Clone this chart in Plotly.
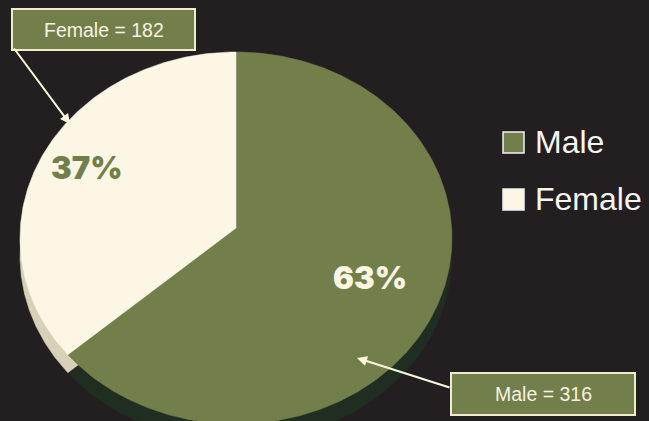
import numpy as np
import plotly.graph_objects as go

# --- data ---
categories = ["Male", "Female"]
counts = [316, 182]
surface_colors = ["#737F4A", "#FBF7E4"]
rim_colors = ["#1F2E20", "#D6D1B8"]
percent_text_colors = ["#FBF7E4", "#737F4A"]
percent_label_xy = [(370, 277), (87, 167)]
callout_boxes = [(451, 373, 635, 415), (12, 9, 195, 50)]
callout_arrows = [((451, 388), (357, 358)), ((13, 47), (70, 124))]
legend_y = [143, 200]

# --- geometry of the tilted pie, in pixel-like axis units ---
W, H = 649, 421
CX, CY, RX, RY = 236, 238, 216, 186
VX, VY = 236, 228
DEPTH = 18
SKEW = 128.9 / 131.6   # perspective squeeze of the female sweep

female_sweep = counts[1] / sum(counts) * 360 * SKEW


def wedge(a0, a1, dy=0):
    t = np.radians(np.linspace(a0, a1, 240))
    x = CX + RX * np.sin(t)
    y = CY - RY * np.cos(t) + dy
    return np.r_[VX, x, VX], np.r_[VY + dy, y, VY + dy]


spans = [(0, 360 - female_sweep), (360 - female_sweep, 360)]

fig = go.Figure()
for span, col in zip(spans, rim_colors):
    x, y = wedge(*span, dy=DEPTH)
    fig.add_trace(go.Scatter(x=x, y=y, mode="lines", fill="toself", fillcolor=col,
                             line=dict(color=col, width=0.5), hoverinfo="skip", showlegend=False))
for span, col, name in zip(spans, surface_colors, categories):
    x, y = wedge(*span)
    fig.add_trace(go.Scatter(x=x, y=y, mode="lines", fill="toself", fillcolor=col, name=name,
                             line=dict(color=col, width=0.5), hoverinfo="name", showlegend=False))

shapes, annos = [], []
total = sum(counts)
for i, cat in enumerate(categories):
    pct = round(counts[i] / total * 100)
    lx, ly = percent_label_xy[i]
    annos.append(dict(x=lx, y=ly, text=f"{pct}%", showarrow=False, xanchor="center", yanchor="middle",
                      font=dict(family="Inter", weight=900, size=31, color=percent_text_colors[i])))
    # callout box
    x0, y0, x1, y1 = callout_boxes[i]
    shapes.append(dict(type="rect", x0=x0, y0=y0, x1=x1, y1=y1, fillcolor="#737F4A",
                       line=dict(color="#EFEBCB", width=2), layer="above"))
    annos.append(dict(x=(x0 + x1) / 2, y=(y0 + y1) / 2, text=f"{cat} = {counts[i]}", showarrow=False,
                      xanchor="center", yanchor="middle",
                      font=dict(family="Liberation Sans", size=19.5, color="#F4F2E2")))
    (ax, ay), (hx, hy) = callout_arrows[i]
    annos.append(dict(x=hx, y=hy, ax=ax, ay=ay, axref="x", ayref="y", xref="x", yref="y", text="",
                      showarrow=True, arrowhead=2, arrowsize=1, arrowwidth=2, arrowcolor="#FBF7DC"))
    # legend
    ym = legend_y[i]
    shapes.append(dict(type="rect", x0=503, x1=524, y0=ym - 11, y1=ym + 10, fillcolor=surface_colors[i],
                       line=dict(color="#F2F2F2", width=1.5), layer="above"))
    annos.append(dict(x=533, y=ym - 1, text=cat, showarrow=False, xanchor="left", yanchor="middle",
                      font=dict(family="Liberation Sans", size=32, color="#F5F5F5")))

fig.update_layout(
    width=W, height=H, autosize=False, margin=dict(l=0, r=0, t=0, b=0),
    paper_bgcolor="#231F20", plot_bgcolor="#231F20", showlegend=False,
    shapes=shapes, annotations=annos,
    xaxis=dict(range=[0, W], visible=False, fixedrange=True),
    yaxis=dict(range=[H, 0], visible=False, fixedrange=True),
)
fig.write_html("out.html", config=dict(displayModeBar=False, responsive=False),
               post_script="document.body.style.margin='0';document.body.style.background='#231F20';document.body.style.overflow='hidden';")
